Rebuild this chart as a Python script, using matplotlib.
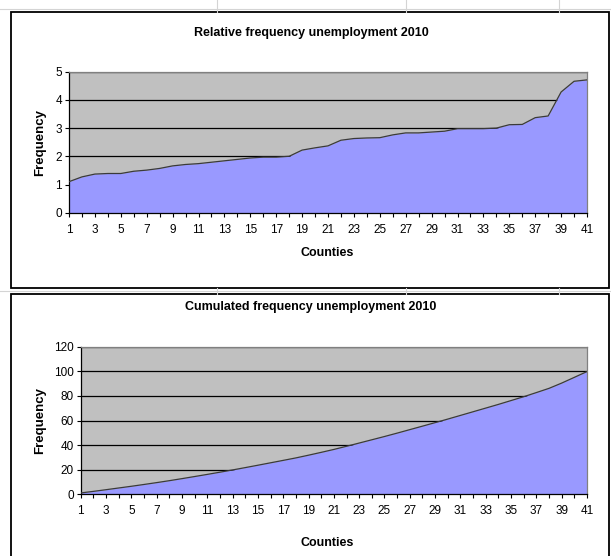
import numpy as np
import matplotlib
matplotlib.use("Agg")
import matplotlib.pyplot as plt
from matplotlib.patches import Rectangle
from matplotlib.lines import Line2D

plt.rcParams['font.family'] = ['Liberation Sans', 'DejaVu Sans']

# Relative frequency (%) of unemployment per county, 2010, sorted ascending
counties = list(range(1, 42))
relative = [1.10, 1.27, 1.37, 1.39, 1.39, 1.47, 1.51, 1.57, 1.66, 1.71,
            1.74, 1.79, 1.84, 1.89, 1.94, 1.97, 1.97, 2.00, 2.22, 2.30,
            2.37, 2.57, 2.63, 2.65, 2.66, 2.76, 2.83, 2.83, 2.86, 2.89,
            2.98, 2.98, 2.98, 3.00, 3.12, 3.13, 3.37, 3.43, 4.28, 4.66, 4.71]
cumulated = np.cumsum(relative)

rel_yticks = [0, 1, 2, 3, 4, 5]
cum_yticks = [0, 20, 40, 60, 80, 100, 120]
x_labels = [str(c) if c % 2 == 1 else '' for c in counties]

W, H = 611, 556
fig = plt.figure(figsize=(W / 100, H / 100), dpi=100)
fig.patch.set_facecolor('white')


def px_rect(x0, y0, x1, y1):
    return [x0 / W, 1 - y1 / H, (x1 - x0) / W, (y1 - y0) / H]


# spreadsheet cell lines behind the chart objects
grid_c = '#d4d4d4'
fig.add_artist(Line2D([0, 1], [1 - 9 / H, 1 - 9 / H], color=grid_c, lw=0.8))
for gx in (217, 406, 559):
    fig.add_artist(Line2D([gx / W, gx / W], [1, 1 - 12 / H], color=grid_c, lw=0.8))
    fig.add_artist(Line2D([gx / W, gx / W], [1 - 288 / H, 1 - 294 / H], color=grid_c, lw=0.8))
fig.add_artist(Line2D([0, 1], [1 - 291 / H, 1 - 291 / H], color=grid_c, lw=0.8))

# chart object frames
for (y0, y1) in ((12, 288), (294, 570)):
    fig.add_artist(Rectangle((11 / W, 1 - y1 / H), (609 - 11) / W, (y1 - y0) / H,
                             transform=fig.transFigure, facecolor='white',
                             edgecolor='black', lw=1.3, zorder=0))


def area_chart(rect, values, yticks, title, title_y, xlabel_y, ylabel_x):
    ax = fig.add_axes(px_rect(*rect))
    ax.set_facecolor('#c0c0c0')
    ax.fill_between(counties, values, 0, color='#9999ff', lw=0, zorder=2)
    ax.plot(counties, values, color='#3a3a3a', lw=0.9, zorder=3)
    ax.set_xlim(1, 41)
    ax.set_ylim(yticks[0], yticks[-1])
    ax.set_yticks(yticks)
    ax.set_xticks(counties)
    ax.set_xticklabels(x_labels)
    ax.yaxis.grid(True, color='black', lw=0.9, zorder=1)
    ax.set_axisbelow(True)
    ax.tick_params(axis='both', direction='out', length=3, width=0.8,
                   labelsize=8.5, pad=2, colors='black')
    ax.tick_params(axis='x', pad=5)
    for side in ('left', 'bottom'):
        ax.spines[side].set_color('black')
        ax.spines[side].set_linewidth(0.9)
    for side in ('top', 'right'):
        ax.spines[side].set_color('#808080')
        ax.spines[side].set_linewidth(0.9)
    fig.text(311 / W, 1 - title_y / H, title, ha='center', va='center',
             fontsize=9, fontweight='bold')
    fig.text(327 / W, 1 - xlabel_y / H, 'Counties', ha='center', va='center',
             fontsize=9, fontweight='bold')
    fig.text(ylabel_x / W, 1 - ((rect[1] + rect[3]) / 2) / H, 'Frequency',
             ha='center', va='center', rotation=90, fontsize=9.5, fontweight='bold')
    return ax


area_chart((69, 71.7, 587, 212.7), relative, rel_yticks,
           'Relative frequency unemployment 2010', 33, 253, 40)
area_chart((80.7, 346.7, 587, 494.3), cumulated, cum_yticks,
           'Cumulated frequency unemployment 2010', 307, 543, 40)

fig.savefig('out.png', dpi=100)
